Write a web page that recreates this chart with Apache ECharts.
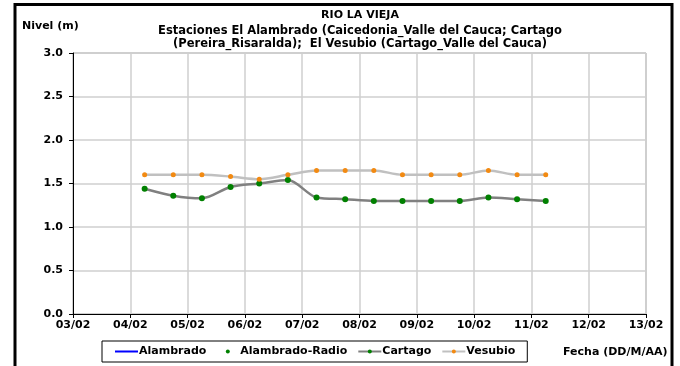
<!DOCTYPE html>
<html>
<head>
<meta charset="utf-8">
<script src="https://cdn.jsdelivr.net/npm/echarts@6/dist/echarts.min.js"></script>
<style>
  html, body { margin: 0; padding: 0; background: #fff; }
  #chart { width: 680px; height: 366px; }
</style>
</head>
<body>
<div id="chart"></div>
<script>
// Fechas de medición (DD/MM HH:MM), febrero
const fechas = [
  '04/02 06:00', '04/02 18:00', '05/02 06:00', '05/02 18:00', '06/02 06:00',
  '06/02 18:00', '07/02 06:00', '07/02 18:00', '08/02 06:00', '08/02 18:00',
  '09/02 06:00', '09/02 18:00', '10/02 06:00', '10/02 18:00', '11/02 06:00'
];
// Nivel (m) por estación
const alambrado = [];
const alambradoRadio = [];
const cartago = [1.44, 1.36, 1.33, 1.46, 1.50, 1.54, 1.34, 1.32, 1.30, 1.30, 1.30, 1.30, 1.34, 1.32, 1.30];
const vesubio = [1.60, 1.60, 1.60, 1.58, 1.55, 1.60, 1.65, 1.65, 1.65, 1.60, 1.60, 1.60, 1.65, 1.60, 1.60];
// Eje de fechas: día de febrero
const diaMin = 3, diaMax = 13;
const nivelTicks = [0, 0.5, 1, 1.5, 2, 2.5, 3];

const titulo = 'RIO LA VIEJA';
const subtitulo = 'Estaciones El Alambrado (Caicedonia_Valle del Cauca; Cartago\n(Pereira_Risaralda);  El Vesubio (Cartago_Valle del Cauca)';

// convierte 'DD/MM HH:MM' en día fraccionario
function diaDe(f) {
  const [fecha, hora] = f.split(' ');
  const d = parseInt(fecha.split('/')[0], 10);
  const [h, m] = hora.split(':').map(Number);
  return d + (h + m / 60) / 24;
}
const xs = fechas.map(diaDe);
const pares = arr => arr.map((v, i) => [xs[i], v]);

const font = '"DejaVu Sans", Verdana, sans-serif';
const chart = echarts.init(document.getElementById('chart'), null, { renderer: 'canvas' });

chart.setOption({
  animation: false,
  backgroundColor: '#fff',
  title: {
    text: titulo,
    subtext: subtitulo,
    left: 355,
    textAlign: 'center',
    top: 4,
    itemGap: 2,
    textStyle: { fontFamily: font, fontSize: 11, fontWeight: 'bold', color: '#000', lineHeight: 13 },
    subtextStyle: { fontFamily: font, fontSize: 11.5, fontWeight: 'bold', color: '#000', lineHeight: 13.5, align: 'center' }
  },
  grid: {
    left: 73, right: 34, top: 53, bottom: 52,
    show: true, borderColor: '#a0a0a0', borderWidth: 1
  },
  legend: {
    left: 102, top: 341,
    borderColor: '#000', borderWidth: 1,
    padding: [5, 12, 5, 12],
    itemGap: 10, itemWidth: 23, itemHeight: 5,
    textStyle: { fontFamily: font, fontSize: 11, fontWeight: 'bold', color: '#000', padding: [0, 0, 0, -4] },
    data: [
      { name: 'Alambrado', itemStyle: { opacity: 0 } },
      'Alambrado-Radio', 'Cartago', 'Vesubio'
    ]
  },
  xAxis: {
    type: 'value',
    min: diaMin, max: diaMax, interval: 1,
    axisLine: { show: true, onZero: false, lineStyle: { color: '#000', width: 1 } },
    axisTick: { show: true, length: 4, lineStyle: { color: '#000' } },
    splitLine: { show: true, lineStyle: { color: '#cfcfcf', width: 1.5 } },
    axisLabel: {
      fontFamily: font, fontSize: 11, fontWeight: 'bold', color: '#000', margin: 6,
      formatter: v => String(v).padStart(2, '0') + '/02'
    }
  },
  yAxis: {
    type: 'value',
    min: nivelTicks[0], max: nivelTicks[nivelTicks.length - 1], interval: 0.5,
    axisLine: { show: true, lineStyle: { color: '#000', width: 1 } },
    axisTick: { show: true, length: 4, lineStyle: { color: '#000' } },
    splitLine: { show: true, lineStyle: { color: '#cfcfcf', width: 1.5 } },
    axisLabel: {
      fontFamily: font, fontSize: 11, fontWeight: 'bold', color: '#000', margin: 10,
      formatter: v => v.toFixed(1)
    }
  },
  series: [
    {
      name: 'Alambrado', type: 'line', data: pares(alambrado),
      symbol: 'none', color: '#0000ff', lineStyle: { color: '#0000ff', width: 2.5 }
    },
    {
      name: 'Alambrado-Radio', type: 'line', data: pares(alambradoRadio),
      symbol: 'circle', symbolSize: 4, color: '#008000',
      itemStyle: { color: '#008000' }, lineStyle: { width: 0, opacity: 0 }
    },
    {
      name: 'Cartago', type: 'line', data: pares(cartago),
      smooth: 0.3, symbol: 'circle', symbolSize: 6,
      color: '#808080',
      lineStyle: { color: '#808080', width: 2.5 },
      itemStyle: { color: '#008000', borderWidth: 0 }
    },
    {
      name: 'Vesubio', type: 'line', data: pares(vesubio),
      smooth: 0.3, symbol: 'circle', symbolSize: 5,
      color: '#c0c0c0',
      lineStyle: { color: '#c0c0c0', width: 2.5 },
      itemStyle: { color: '#f28a12', borderWidth: 0 }
    }
  ],
  graphic: [
    {
      type: 'rect', silent: true,
      shape: { x: 15, y: 4.5, width: 657, height: 400 },
      style: { fill: 'none', stroke: '#000', lineWidth: 3 }
    },
    {
      type: 'text', left: 22, top: 21,
      style: { text: 'Nivel (m)', font: 'bold 11px ' + font, fill: '#000' }
    },
    {
      type: 'text', left: 563, top: 347,
      style: { text: 'Fecha (DD/M/AA)', font: 'bold 11px ' + font, fill: '#000' }
    }
  ]
});
</script>
</body>
</html>
